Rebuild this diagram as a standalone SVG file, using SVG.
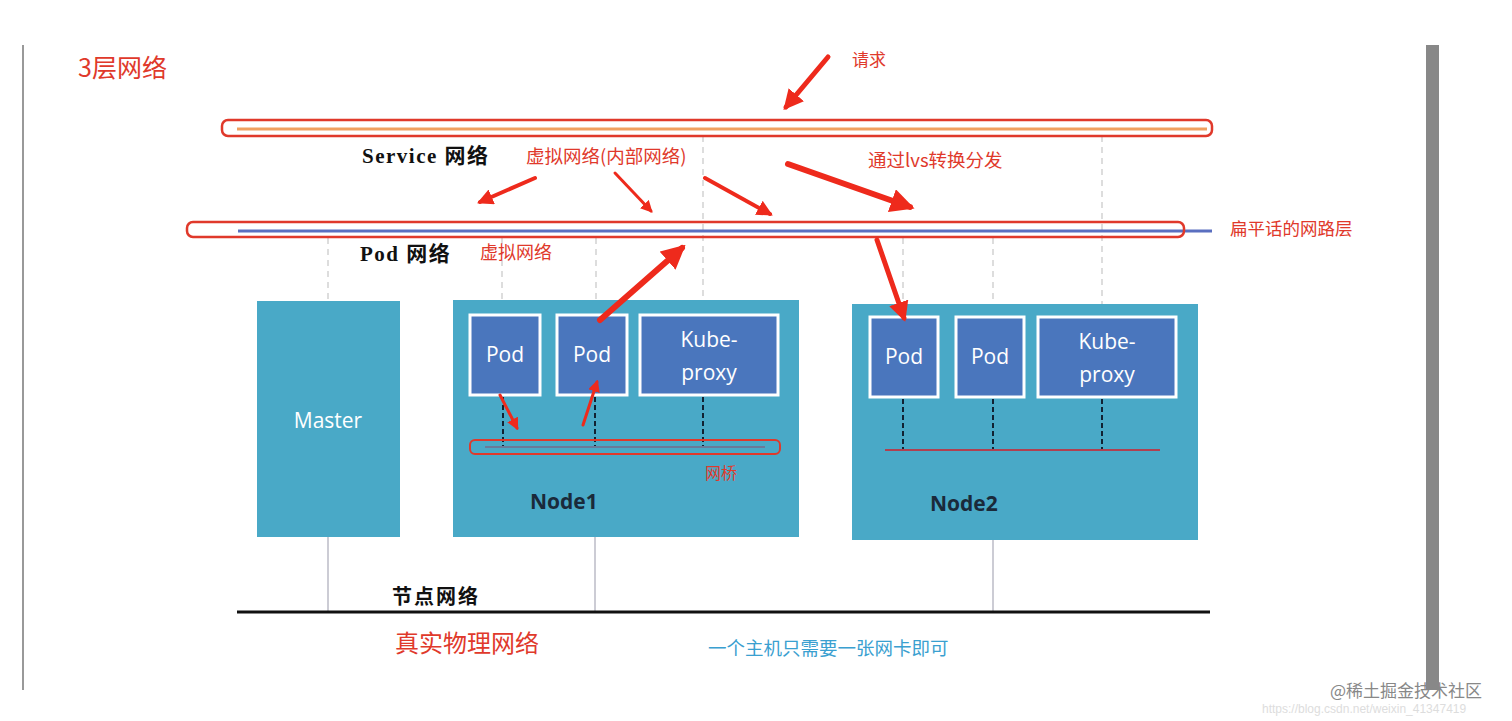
<svg xmlns="http://www.w3.org/2000/svg" width="1512" height="721" viewBox="0 0 1512 721">
<defs>
<style>
.red{fill:#e0392b;font-family:"Noto Sans CJK SC","Liberation Sans",sans-serif}
.blk{fill:#111;font-family:"Liberation Serif","Noto Sans CJK SC",serif;font-weight:bold}
.node{fill:#49a9c7}
.pod{fill:#4a76bd;stroke:#fff;stroke-width:3}
.wt{fill:#fff;font-family:"Open Sans","Liberation Sans",sans-serif;font-size:21px;text-anchor:middle}
.arr{stroke:#ee2a1c;fill:none;stroke-linecap:round}
.dash{stroke:#bbb;stroke-width:1;stroke-dasharray:6 5}
.dk{stroke:#123;stroke-width:2;stroke-dasharray:5 3}
</style>
<marker id="ah" viewBox="0 0 10 10" refX="8" refY="5" markerWidth="4" markerHeight="4" orient="auto"><path d="M0,0L10,5L0,10z" fill="#ee2a1c"/></marker>
</defs>
<rect width="1512" height="721" fill="#fff"/>
<line x1="23" y1="45" x2="23" y2="690" stroke="#999" stroke-width="2"/>
<rect x="1426" y="45" width="13" height="645" fill="#888"/>
<text x="78" y="77" class="red" font-size="25">3层网络</text>
<g id="guides">
<line class="dash" x1="328" y1="238" x2="328" y2="300"/>
<line class="dash" x1="502" y1="238" x2="502" y2="315"/>
<line class="dash" x1="596" y1="238" x2="596" y2="315"/>
<line class="dash" x1="703" y1="136" x2="703" y2="315"/>
<line class="dash" x1="903" y1="238" x2="903" y2="317"/>
<line class="dash" x1="993" y1="238" x2="993" y2="317"/>
<line class="dash" x1="1102" y1="136" x2="1102" y2="317"/>
</g>
<g id="service-net">
<line x1="237" y1="129" x2="1207" y2="129" stroke="#f0a060" stroke-width="3"/>
<rect x="222" y="120" width="990" height="16" rx="6" fill="none" stroke="#e0392b" stroke-width="2.5"/>
<text x="362" y="163" class="blk" font-size="21" letter-spacing="1.5">Service 网络</text>
<text x="526" y="163" class="red" font-size="18.5">虚拟网络(内部网络)</text>
</g>
<g id="pod-net">
<line x1="238" y1="231" x2="1212" y2="231" stroke="#5a6fc0" stroke-width="3"/>
<rect x="187" y="222" width="997" height="15" rx="6" fill="none" stroke="#e0392b" stroke-width="2.5"/>
<text x="1230" y="235" class="red" font-size="17.5">扁平话的网路层</text>
<text x="360" y="261" class="blk" font-size="21" letter-spacing="1.5">Pod 网络</text>
<text x="480" y="259" class="red" font-size="18">虚拟网络</text>
</g>
<g id="master"><rect x="257" y="301" width="143" height="236" class="node"/><text x="328" y="428" class="wt">Master</text></g>
<g id="node1">
<rect x="453" y="300" width="346" height="237" class="node"/>
<rect x="470" y="315" width="70" height="80" class="pod"/><text x="505" y="362" class="wt">Pod</text>
<rect x="557" y="315" width="70" height="80" class="pod"/><text x="592" y="362" class="wt">Pod</text>
<rect x="640" y="315" width="138" height="80" class="pod"/><text x="709" y="347" class="wt">Kube-</text><text x="709" y="380" class="wt">proxy</text>
<line class="dk" x1="503" y1="397" x2="503" y2="447"/><line class="dk" x1="595" y1="397" x2="595" y2="447"/><line class="dk" x1="703" y1="397" x2="703" y2="447"/>
<line x1="485" y1="447" x2="765" y2="447" stroke="#6a7a9a" stroke-width="2"/>
<rect x="470" y="440" width="310" height="14" rx="5" fill="none" stroke="#e0392b" stroke-width="2"/>
<text x="705" y="479" class="red" font-size="16">网桥</text>
<text x="530" y="509" font-family="Open Sans,Liberation Sans,sans-serif" font-size="21" font-weight="bold" fill="#1a2a3a">Node1</text>
</g>
<g id="node2">
<rect x="852" y="304" width="346" height="236" class="node"/>
<rect x="870" y="317" width="68" height="80" class="pod"/><text x="904" y="364" class="wt">Pod</text>
<rect x="956" y="317" width="68" height="80" class="pod"/><text x="990" y="364" class="wt">Pod</text>
<rect x="1038" y="317" width="138" height="80" class="pod"/><text x="1107" y="349" class="wt">Kube-</text><text x="1107" y="382" class="wt">proxy</text>
<line class="dk" x1="903" y1="399" x2="903" y2="450"/><line class="dk" x1="993" y1="399" x2="993" y2="450"/><line class="dk" x1="1102" y1="399" x2="1102" y2="450"/>
<line x1="885" y1="450" x2="1160" y2="450" stroke="#b04050" stroke-width="2"/>
<text x="930" y="511" font-family="Open Sans,Liberation Sans,sans-serif" font-size="21" font-weight="bold" fill="#1a2a3a">Node2</text>
</g>
<g id="physical">
<line x1="328" y1="537" x2="328" y2="612" stroke="#99a" stroke-width="1"/>
<line x1="595" y1="537" x2="595" y2="612" stroke="#99a" stroke-width="1"/>
<line x1="993" y1="540" x2="993" y2="612" stroke="#99a" stroke-width="1"/>
<line x1="237" y1="612" x2="1210" y2="612" stroke="#111" stroke-width="3"/>
<text x="392" y="604" class="blk" font-size="20" letter-spacing="2">节点网络</text>
<text x="395" y="652" class="red" font-size="24">真实物理网络</text>
<text x="708" y="655" font-family="Noto Sans CJK SC,sans-serif" font-size="18.5" fill="#3aa0d0">一个主机只需要一张网卡即可</text>
</g>
<g id="connectors">
<line class="arr" x1="828" y1="57" x2="786" y2="107" stroke-width="5" marker-end="url(#ah)"/>
<line class="arr" x1="535" y1="178" x2="480" y2="202" stroke-width="4" marker-end="url(#ah)"/>
<line class="arr" x1="615" y1="173" x2="651" y2="211" stroke-width="3" marker-end="url(#ah)"/>
<line class="arr" x1="705" y1="178" x2="770" y2="214" stroke-width="4" marker-end="url(#ah)"/>
<line class="arr" x1="788" y1="164" x2="910" y2="207" stroke-width="6" marker-end="url(#ah)"/>
<line class="arr" x1="600" y1="320" x2="682" y2="248" stroke-width="6" marker-end="url(#ah)"/>
<line class="arr" x1="877" y1="240" x2="904" y2="318" stroke-width="5" marker-end="url(#ah)"/>
<line class="arr" x1="500" y1="395" x2="517" y2="428" stroke-width="3" marker-end="url(#ah)"/>
<line class="arr" x1="583" y1="425" x2="597" y2="382" stroke-width="3" marker-end="url(#ah)"/>
</g>
<text x="852" y="66" class="red" font-size="17">请求</text>
<text x="868" y="167" class="red" font-size="18.5">通过lvs转换分发</text>
<text x="1330" y="697" font-family="Noto Sans CJK SC,sans-serif" font-size="17" fill="#888">@稀土掘金技术社区</text>
<text x="1262" y="713" font-family="Liberation Sans,sans-serif" font-size="12" fill="#ddd">https://blog.csdn.net/weixin_41347419</text>
</svg>
